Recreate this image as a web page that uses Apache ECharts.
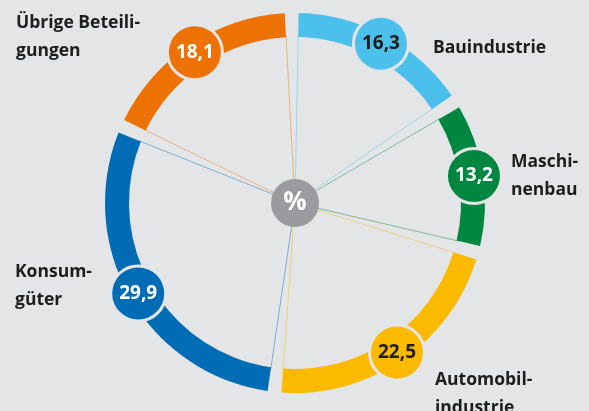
<!DOCTYPE html>
<html>
<head>
<meta charset="utf-8">
<script src="https://cdn.jsdelivr.net/npm/echarts@6/dist/echarts.min.js"></script>
<style>
  html, body { margin: 0; padding: 0; background: #e4e5e7; }
  #main { width: 589px; height: 411px; }
</style>
</head>
<body>
<div id="main"></div>
<script>
// Branchen (Anteile in %)
var categories = ['Bauindustrie', 'Maschinenbau', 'Automobilindustrie', 'Konsumgüter', 'Übrige Beteiligungen'];
var values = [16.3, 13.2, 22.5, 29.9, 18.1];
var nameLabels = ['Bauindustrie', 'Maschi-\nnenbau', 'Automobil-\nindustrie', 'Konsum-\ngüter', 'Übrige Beteili-\ngungen'];

var colors = ['#4cc0ec', '#00873f', '#fbb900', '#006cb5', '#ee7203'];
var numColors = ['#1d1d1b', '#fff', '#1d1d1b', '#fff', '#fff'];
// Position der Beschriftungen (links oben)
var namePos = [[433, 34], [511, 148], [435, 366], [15, 258], [16, 9]];

var bg = '#e4e5e7';
var ctr = [295, 203];
var font = "'Open Sans', 'Noto Sans', sans-serif";

var myChart = echarts.init(document.getElementById('main'));

var ringData = [], lineData = [];
for (var i = 0; i < values.length; i++) {
    ringData.push({
        name: categories[i],
        value: values[i],
        itemStyle: { color: colors[i] },
        label: {
            color: numColors[i],
            backgroundColor: colors[i]
        }
    });
    lineData.push({
        name: categories[i],
        value: values[i],
        itemStyle: { color: 'rgba(0,0,0,0)', borderColor: colors[i], borderWidth: 1, opacity: 0.45 }
    });
}

var graphics = [];
for (var j = 0; j < nameLabels.length; j++) {
    graphics.push({
        type: 'text',
        left: namePos[j][0],
        top: namePos[j][1],
        style: {
            text: nameLabels[j],
            fill: '#1d1d1b',
            font: 'bold 17.5px ' + font,
            lineHeight: 28
        }
    });
}

var option = {
    backgroundColor: bg,
    animation: false,
    graphic: graphics,
    series: [
        {
            // dünne Linien von der Mitte
            type: 'pie',
            center: ctr,
            radius: [0, 168],
            startAngle: 91,
            clockwise: true,
            padAngle: 4.2,
            silent: true,
            label: { show: false },
            labelLine: { show: false },
            data: lineData
        },
        {
            type: 'pie',
            center: ctr,
            radius: [166, 190],
            startAngle: 91,
            clockwise: true,
            padAngle: 4.2,
            silent: true,
            label: {
                show: true,
                position: 'inside',
                rotate: 0,
                formatter: function (p) {
                    return String(p.value).replace('.', ',');
                },
                fontFamily: font,
                fontWeight: 'bold',
                fontSize: 19,
                width: 52,
                height: 52,
                lineHeight: 52,
                align: 'center',
                verticalAlign: 'middle',
                borderRadius: 26,
                borderColor: bg,
                borderWidth: 3
            },
            labelLine: { show: false },
            data: ringData
        },
        {
            // Mittelkreis
            type: 'pie',
            center: ctr,
            radius: [0, 24],
            silent: true,
            itemStyle: { color: '#9b9a9e' },
            label: {
                show: true,
                position: 'center',
                formatter: '%',
                color: '#fff',
                fontFamily: font,
                fontWeight: 'bold',
                fontSize: 26
            },
            labelLine: { show: false },
            data: [{ name: '%', value: 1 }]
        }
    ]
};
myChart.setOption(option);

window.addEventListener('resize', function () {
    myChart.resize();
});
</script>
</body>
</html>
